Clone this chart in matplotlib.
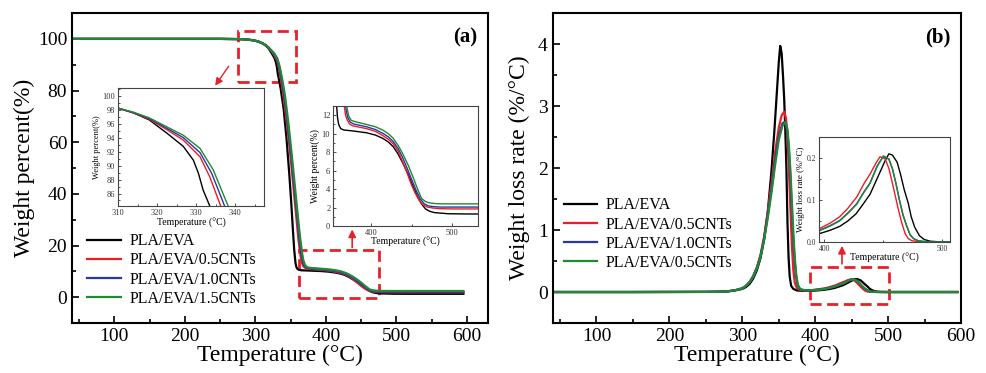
import matplotlib
matplotlib.use('Agg')
import matplotlib.pyplot as plt
from matplotlib.patches import Rectangle
from matplotlib.ticker import MultipleLocator

plt.rcParams['font.family'] = ['Liberation Serif', 'DejaVu Serif']
plt.rcParams['lines.solid_joinstyle'] = 'round'

# ---- TGA (weight percent) ----
tga_k_T = [40, 150, 250, 280, 290, 298, 304, 310, 314, 318, 322.5, 326.7, 329.3, 330.6, 331.8, 333.5, 336, 340, 344, 348,
           351, 353, 355, 357, 358, 359.5, 362, 366, 377, 394, 405, 414, 421, 427, 433, 439, 446, 452, 457, 462, 467, 472,
           478, 485, 495, 520, 595]
tga_k_W = [100, 100, 100, 99.9, 99.7, 99.4, 99.0, 98.3, 97.6, 96.6, 94.7, 92.8, 90.8, 88.9, 86.5, 84.2, 80.5, 73, 62, 48,
           36, 27, 18.5, 13, 11.8, 11.0, 10.55, 10.4, 10.3, 10.1, 9.85, 9.5, 9.1, 8.6, 7.8, 6.8, 5.5, 4.2, 3.2, 2.4, 1.85, 1.6,
           1.45, 1.4, 1.33, 1.3, 1.3]
tga_r_T = [40, 150, 250, 280, 290, 298, 304, 310, 314, 318, 322.5, 326.7, 331, 333.5, 336.3, 340, 345, 350, 354, 357.5,
           361, 364, 366, 368, 370, 373, 377, 394, 405, 414, 421, 427, 433, 438, 444, 449, 454, 459, 464, 469, 476, 484,
           500, 595]
tga_r_W = [100, 100, 100, 99.9, 99.7, 99.4, 99.0, 98.3, 97.6, 96.7, 95.2, 93.7, 91.3, 88.4, 84.2, 77.5, 66.5, 54, 42.5,
           32.5, 22.5, 16, 13.3, 12, 11.5, 11.05, 10.85, 10.55, 10.25, 9.8, 9.4, 8.9, 8.1, 7.1, 5.8, 4.6, 3.6, 2.8, 2.3, 2.06,
           1.95, 1.88, 1.85, 1.85]
tga_b_T = [40, 150, 250, 280, 290, 298, 304, 310, 314, 318, 322.5, 326.7, 331, 334, 337.3, 341, 346, 351, 355, 359, 362,
           365, 367, 369, 371, 374, 378, 394, 405, 414, 421, 427, 433, 438.5, 445, 450.5, 455.5, 460.5, 465.5, 470.5, 477,
           485, 500, 595]
tga_b_W = [100, 100, 100, 99.9, 99.7, 99.4, 99.0, 98.3, 97.65, 96.8, 95.4, 94.05, 91.9, 88.9, 84.2, 77.8, 66.8, 54, 42.8,
           32.2, 23.5, 17, 14, 12.4, 11.7, 11.25, 11.05, 10.75, 10.45, 10.05, 9.65, 9.15, 8.4, 7.45, 6.1, 4.9, 3.85, 2.95,
           2.4, 2.18, 2.1, 2.05, 2.05, 2.05]
tga_g_T = [40, 150, 250, 280, 290, 298, 304, 310, 314, 318, 322.5, 326.7, 331, 334.4, 338.2, 342, 347, 352, 356, 360,
           363, 366, 368, 370, 372, 375, 380, 394, 405, 414, 421, 427, 433, 439, 446, 452, 457, 462, 467, 472, 479, 487,
           500, 595]
tga_g_W = [100, 100, 100, 99.9, 99.7, 99.4, 99.0, 98.3, 97.7, 96.9, 95.6, 94.4, 92.5, 89.4, 84.2, 78, 67, 54, 43, 32,
           24, 17.5, 14.3, 12.7, 11.9, 11.45, 11.3, 11.0, 10.75, 10.4, 10.0, 9.5, 8.75, 7.8, 6.5, 5.2, 4.05, 3.0, 2.65, 2.5,
           2.43, 2.4, 2.4, 2.4]

# ---- DTG (weight loss rate) ----
dtg_k_T = [40, 150, 250, 270, 280, 290, 300, 305, 310, 315, 320, 325, 330, 335, 340, 344, 347, 350, 352, 354, 356,
           357.5, 359, 360.5, 362, 363.5, 365, 367, 370, 375, 385, 396, 405, 413, 420, 427, 433, 439, 444, 448, 452,
           455, 458, 462, 465, 468, 471.5, 474, 477, 481, 485, 490, 500, 595]
dtg_k_Y = [0, 0, 0.002, 0.005, 0.01, 0.025, 0.05, 0.08, 0.13, 0.22, 0.35, 0.55, 0.85, 1.3, 1.95, 2.6, 3.15, 3.7, 3.97,
           3.85, 3.45, 3.1, 2.6, 2.0, 1.1, 0.55, 0.25, 0.1, 0.05, 0.025, 0.018, 0.02, 0.028, 0.037, 0.05, 0.067, 0.09,
           0.114, 0.145, 0.17, 0.195, 0.21, 0.207, 0.19, 0.16, 0.125, 0.092, 0.06, 0.035, 0.015, 0.006, 0.002, 0, 0]
dtg_r_T = [40, 150, 250, 270, 280, 290, 300, 305, 310, 315, 320, 325, 330, 335, 340, 345, 350, 354, 357.5, 360, 362,
           364, 366, 368, 370, 372, 375, 380, 388, 396, 405, 413, 420, 427.6, 434, 439, 444, 447.5, 451.8, 455, 457.5,
           460, 463, 466, 468.8, 471.5, 474.5, 480, 490, 595]
dtg_r_Y = [0, 0, 0.002, 0.006, 0.012, 0.028, 0.06, 0.1, 0.16, 0.26, 0.4, 0.6, 0.9, 1.3, 1.75, 2.25, 2.65, 2.85, 2.91,
           2.8, 2.45, 1.95, 1.35, 0.75, 0.35, 0.15, 0.06, 0.03, 0.025, 0.032, 0.045, 0.06, 0.08, 0.107, 0.14, 0.162,
           0.188, 0.203, 0.198, 0.175, 0.146, 0.115, 0.078, 0.045, 0.02, 0.008, 0.003, 0.001, 0, 0]
dtg_b_T = [40, 150, 250, 270, 280, 290, 300, 305, 310, 315, 320, 325, 330, 335, 340, 345, 350, 355, 359, 361.5, 363.5,
           365.5, 367.5, 369.5, 371.5, 373.5, 375.5, 377.5, 380.5, 386, 396, 405, 413, 420, 427.6, 433, 439, 445, 450.3,
           455, 458, 461, 464, 467, 470, 473, 476, 480, 488, 595]
dtg_b_Y = [0, 0, 0.002, 0.006, 0.012, 0.028, 0.06, 0.1, 0.16, 0.255, 0.39, 0.58, 0.87, 1.24, 1.66, 2.12, 2.52, 2.72,
           2.75, 2.62, 2.35, 1.95, 1.45, 0.95, 0.55, 0.28, 0.13, 0.07, 0.04, 0.028, 0.028, 0.039, 0.051, 0.069, 0.091,
           0.116, 0.141, 0.181, 0.204, 0.197, 0.174, 0.139, 0.099, 0.064, 0.039, 0.017, 0.008, 0.003, 0, 0]
dtg_g_T = [40, 150, 250, 270, 280, 290, 300, 305, 310, 315, 320, 325, 330, 335, 340, 345, 350, 355, 359.7, 362, 364,
           366, 368, 370, 372, 374, 376, 378, 381, 386, 396, 405, 413, 420, 427.6, 433, 439, 445, 450.3, 455, 458, 461,
           464, 467, 470, 473, 476, 480, 488, 595]
dtg_g_Y = [0, 0, 0.002, 0.006, 0.012, 0.028, 0.06, 0.1, 0.16, 0.25, 0.38, 0.57, 0.85, 1.2, 1.6, 2.05, 2.45, 2.68, 2.74,
           2.62, 2.35, 1.95, 1.45, 0.95, 0.55, 0.28, 0.13, 0.07, 0.04, 0.028, 0.027, 0.038, 0.05, 0.068, 0.09, 0.115,
           0.14, 0.18, 0.205, 0.198, 0.175, 0.14, 0.1, 0.065, 0.04, 0.018, 0.008, 0.003, 0, 0]

labels_a = ['PLA/EVA', 'PLA/EVA/0.5CNTs', 'PLA/EVA/1.0CNTs', 'PLA/EVA/1.5CNTs']
labels_b = ['PLA/EVA', 'PLA/EVA/0.5CNTs', 'PLA/EVA/1.0CNTs', 'PLA/EVA/0.5CNTs']
colors = ['black', '#ee1c24', '#2b35a8', '#1e8a33']

tga = [(tga_k_T, tga_k_W), (tga_r_T, tga_r_W), (tga_b_T, tga_b_W), (tga_g_T, tga_g_W)]
dtg = [(dtg_k_T, dtg_k_Y), (dtg_r_T, dtg_r_Y), (dtg_b_T, dtg_b_Y), (dtg_g_T, dtg_g_Y)]

RED = '#e8202a'


def style_main(ax):
    ax.tick_params(which='both', direction='in', top=False, right=False, labelsize=14, width=1.2)
    ax.tick_params(which='major', length=5)
    ax.tick_params(which='minor', length=3)
    for s in ax.spines.values():
        s.set_linewidth(1.5)
    ax.xaxis.set_major_locator(MultipleLocator(100))
    ax.xaxis.set_minor_locator(MultipleLocator(50))


def style_inset(ax):
    ax.tick_params(which='both', direction='in', labelsize=6, width=0.6, colors='#333333', pad=2)
    ax.tick_params(which='major', length=2.5)
    ax.tick_params(which='minor', length=1.5)
    for s in ax.spines.values():
        s.set_linewidth(0.8)
        s.set_color('#444444')


fig = plt.figure(figsize=(9.87, 3.73), dpi=100)

# ---------------- (a) ----------------
ax1 = fig.add_axes([0.073, 0.134, 0.4215, 0.831])
for (T, W), c, lab in zip(tga, colors, labels_a):
    ax1.plot(T, W, color=c, lw=1.6, label=lab)
ax1.set_xlim(40, 630)
ax1.set_ylim(-10, 110)
style_main(ax1)
ax1.yaxis.set_major_locator(MultipleLocator(20))
ax1.yaxis.set_minor_locator(MultipleLocator(10))
ax1.set_xlabel('Temperature (°C)', fontsize=17, labelpad=0)
ax1.set_ylabel('Weight percent(%)', fontsize=17, labelpad=2)
ax1.text(0.975, 0.955, '(a)', transform=ax1.transAxes, ha='right', va='top', fontsize=15, fontweight='bold')
ax1.legend(loc='upper left', bbox_to_anchor=(0.037, 0.29), frameon=False, fontsize=11.5, handlelength=2.1,
           handletextpad=0.55, labelspacing=0.2, borderaxespad=0, borderpad=0)

ax1.add_patch(Rectangle((276, 83.4), 81, 19.5, fill=False, ec=RED, lw=2, ls=(0, (4, 2)), clip_on=False))
ax1.add_patch(Rectangle((362.5, -0.5), 113.5, 18.6, fill=False, ec=RED, lw=2, ls=(0, (4, 2)), clip_on=False))
ax1.annotate('', xy=(240.7, 81.0), xytext=(264.4, 90.3),
             arrowprops=dict(arrowstyle='-|>', color=RED, lw=1.0, mutation_scale=11))
ax1.annotate('', xy=(437.3, 27.3), xytext=(437.3, 18.2),
             arrowprops=dict(arrowstyle='-|>', color=RED, lw=1.2, mutation_scale=11))

# inset a1
ia1 = fig.add_axes([0.1196, 0.4477, 0.1479, 0.3164])
for (T, W), c in zip(tga, colors):
    ia1.plot(T, W, color=c, lw=1.0)
ia1.set_xlim(310, 347.4)
ia1.set_ylim(84.2, 101.2)
ia1.xaxis.set_major_locator(MultipleLocator(10))
ia1.xaxis.set_minor_locator(MultipleLocator(5))
ia1.yaxis.set_minor_locator(MultipleLocator(1))
ia1.set_yticks([86, 88, 90, 92, 94, 96, 98, 100])
style_inset(ia1)
ia1.set_xlabel('Temperature (°C)', fontsize=7, labelpad=1)
ia1.set_ylabel('Weight percent(%)', fontsize=6, labelpad=1)

# inset a2
ia2 = fig.add_axes([0.3374, 0.3941, 0.1469, 0.3217])
for (T, W), c in zip(tga, colors):
    ia2.plot(T, W, color=c, lw=1.0)
ia2.set_xlim(352.5, 532)
ia2.set_ylim(0, 13)
ia2.xaxis.set_major_locator(MultipleLocator(100))
ia2.xaxis.set_minor_locator(MultipleLocator(50))
ia2.yaxis.set_major_locator(MultipleLocator(2))
ia2.yaxis.set_minor_locator(MultipleLocator(1))
style_inset(ia2)
ia2.set_xlabel('Temperature (°C)', fontsize=7, labelpad=0)
ia2.set_ylabel('Weight percent(%)', fontsize=7, labelpad=1)

# ---------------- (b) ----------------
ax2 = fig.add_axes([0.560, 0.134, 0.4137, 0.831])
for (T, Y), c, lab in zip(dtg, colors, labels_b):
    ax2.plot(T, Y, color=c, lw=1.6, label=lab)
ax2.set_xlim(40, 600)
ax2.set_ylim(-0.5, 4.5)
style_main(ax2)
ax2.yaxis.set_major_locator(MultipleLocator(1))
ax2.yaxis.set_minor_locator(MultipleLocator(0.5))
ax2.set_xlabel('Temperature (°C)', fontsize=17, labelpad=0)
ax2.set_ylabel('Weight loss rate (%/°C)', fontsize=17, labelpad=6)
ax2.text(0.975, 0.955, '(b)', transform=ax2.transAxes, ha='right', va='top', fontsize=15, fontweight='bold')
ax2.legend(loc='upper left', bbox_to_anchor=(0.027, 0.405), frameon=False, fontsize=11.5, handlelength=2.1,
           handletextpad=0.55, labelspacing=0.2, borderaxespad=0, borderpad=0)

ax2.add_patch(Rectangle((393, -0.19), 108, 0.6, fill=False, ec=RED, lw=2, ls=(0, (4, 2)), clip_on=False))
ax2.annotate('', xy=(436.7, 0.79), xytext=(436.7, 0.41),
             arrowprops=dict(arrowstyle='-|>', color=RED, lw=1.2, mutation_scale=11))

# inset b
ib = fig.add_axes([0.8298, 0.3512, 0.1327, 0.2815])
for (T, Y), c in zip(dtg, colors):
    ib.plot(T, Y, color=c, lw=1.0)
ib.set_xlim(395.5, 507)
ib.set_ylim(0, 0.25)
ib.xaxis.set_major_locator(MultipleLocator(100))
ib.xaxis.set_minor_locator(MultipleLocator(50))
ib.yaxis.set_major_locator(MultipleLocator(0.1))
ib.yaxis.set_minor_locator(MultipleLocator(0.05))
style_inset(ib)
ib.tick_params(labelsize=5.5)
ib.set_xlabel('Temperature (°C)', fontsize=7, labelpad=0)
ib.set_ylabel('Weight loss rate (%/°C)', fontsize=6.5, labelpad=1)

fig.savefig('out.png', dpi=100)
